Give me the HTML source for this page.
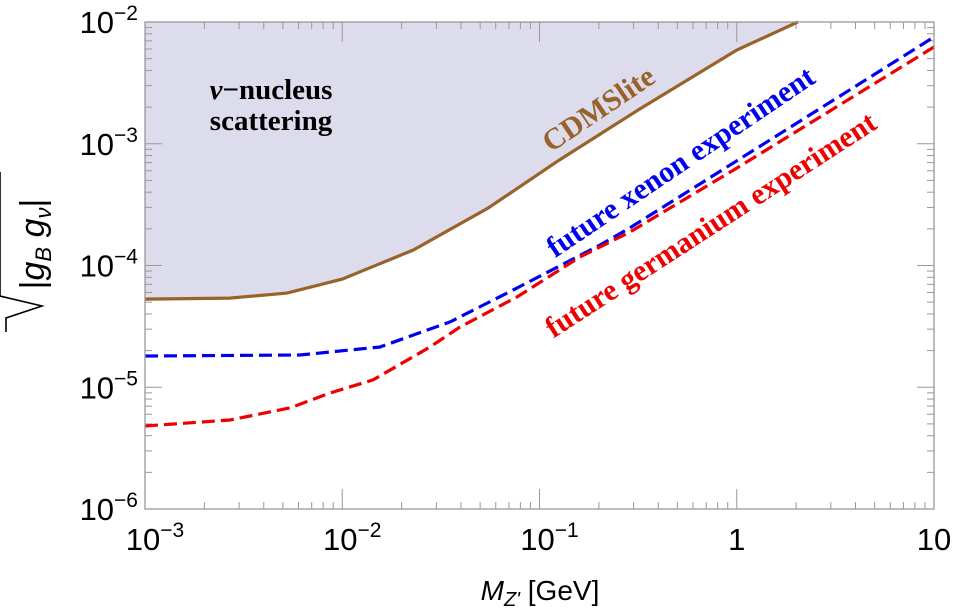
<!DOCTYPE html>
<html><head><meta charset="utf-8"><style>
body{margin:0;background:#fff;}
svg{display:block;font-family:"Liberation Sans",sans-serif;}
</style></head><body>
<svg id="chart" width="957" height="612" viewBox="0 0 957 612" xmlns="http://www.w3.org/2000/svg">
<g id="region"></g>
<g id="ticks"></g>
<g id="series"></g>
<rect x="145" y="22" width="789" height="487" fill="none" stroke="#999" stroke-width="1.3"/>
<g id="labels" font-size="31" fill="#000"></g>
<text x="271" y="99" text-anchor="middle" font-family="Liberation Serif,serif" font-weight="bold" font-size="29"><tspan font-style="italic">ν</tspan>−nucleus</text>
<text x="271" y="130" text-anchor="middle" font-family="Liberation Serif,serif" font-weight="bold" font-size="29">scattering</text>
<text transform="translate(604,117) rotate(-34)" text-anchor="middle" font-family="Liberation Serif,serif" font-weight="bold" font-size="30" fill="#99622a">CDMSlite</text>
<text transform="translate(686,170) rotate(-34)" text-anchor="middle" font-family="Liberation Serif,serif" font-weight="bold" font-size="30" fill="#0000ee">future xenon experiment</text>
<text transform="translate(716,233) rotate(-33)" text-anchor="middle" font-family="Liberation Serif,serif" font-weight="bold" font-size="30" fill="#ee0000">future germanium experiment</text>
<text x="540" y="600" text-anchor="middle" font-size="28"><tspan font-style="italic">M</tspan><tspan font-style="italic" font-size="20" dy="6">Z'</tspan><tspan dy="-6"> [GeV]</tspan></text>
<g transform="translate(50,250) rotate(-90)">
<path d="M-82,-44 L-68,-44 L-56,-8 L-46,-50 L78,-50" fill="none" stroke="#000" stroke-width="1.6"/>
<text x="6" y="-6" text-anchor="middle" font-size="34"><tspan>|</tspan><tspan font-style="italic">g</tspan><tspan font-style="italic" font-size="22" dy="7">B</tspan><tspan font-style="italic" dy="-7"> g</tspan><tspan font-style="italic" font-size="22" dy="7">ν</tspan><tspan dy="-7">|</tspan></text>
</g>
</svg>
<script>
// log10 values
const cdmsX = [-3, -2.57, -2.28, -2, -1.64, -1.26, -0.90, -0.50, 0, 0.31];
const cdmsY = [-4.276, -4.268, -4.227, -4.112, -3.873, -3.528, -3.134, -2.723, -2.230, -2.0];
const xenonX = [-3, -2.214, -1.809, -1.454, -1.114, -0.693, -0.541, 0, 1];
const xenonY = [-4.743, -4.735, -4.669, -4.464, -4.185, -3.832, -3.690, -3.140, -2.123];
const geX = [-3, -2.569, -2.265, -2.062, -1.844, -1.555, -1.403, -1.114, -0.795, -0.541, 0, 1];
const geY = [-5.318, -5.269, -5.170, -5.047, -4.940, -4.669, -4.505, -4.259, -3.930, -3.725, -3.200, -2.205];
const xTickLabels = ["10^-3", "10^-2", "10^-1", "1", "10"];
const yTickLabels = ["10^-6", "10^-5", "10^-4", "10^-3", "10^-2"];

const L = 145, R = 934, T = 22, B = 509;
const sx = v => L + (v + 3) / 4 * (R - L);
const sy = v => B - (v + 6) / 4 * (B - T);
const NS = "http://www.w3.org/2000/svg";
function mk(tag, parent) { const e = document.createElementNS(NS, tag); parent.appendChild(e); return e; }
const pts = (xs, ys) => xs.map((x, i) => sx(x).toFixed(1) + "," + sy(ys[i]).toFixed(1)).join(" ");

const reg = document.getElementById("region");
const poly = mk("polygon", reg);


poly.setAttribute("points", sx(-3) + "," + T + " " + pts(cdmsX, cdmsY));
poly.setAttribute("fill", "#dcdcec");

const ser = document.getElementById("series");
function line(xs, ys, color, dash, name) {
  const p = mk("polyline", ser);
  
  
  p.setAttribute("points", pts(xs, ys));
  p.setAttribute("fill", "none");
  p.setAttribute("stroke", color);
  p.setAttribute("stroke-width", "3.2");
  if (dash) p.setAttribute("stroke-dasharray", dash);
}
line(cdmsX, cdmsY, "#99622a", null, "cdmslite-line");
line(xenonX, xenonY, "#0000ee", "13,6", "xenon-line");
line(geX, geY, "#ee0000", "13,6", "germanium-line");

const tk = document.getElementById("ticks");
function tick(x1, y1, x2, y2) {
  const l = mk("line", tk);
  
  
  l.setAttribute("x1", x1); l.setAttribute("y1", y1); l.setAttribute("x2", x2); l.setAttribute("y2", y2);
  l.setAttribute("stroke", "#999"); l.setAttribute("stroke-width", "1");
}
for (let d = 0; d < 4; d++) for (let m = 1; m < 10; m++) {
  const lx = sx(-3 + d + Math.log10(m)), ly = sy(-6 + d + Math.log10(m));
  const len = m === 1 ? 20 : 7;
  tick(lx, B, lx, B - len); tick(lx, T, lx, T + len);
  const hl = m === 1 ? 17 : 7;
  tick(L, ly, L + hl, ly); tick(R, ly, R - hl, ly);
}
const lb = document.getElementById("labels");
function label(txt, x, y, anchor, name) {
  const t = mk("text", lb);
  
  
  t.setAttribute("x", x); t.setAttribute("y", y); t.setAttribute("text-anchor", anchor);
  if (txt.includes("^")) {
    const [b, e] = txt.split("^");
    const a = mk("tspan", t); a.textContent = b;
    const s = mk("tspan", t); s.textContent = e.replace("-", "−"); s.setAttribute("font-size", "21"); s.setAttribute("dy", "-13");
  } else t.textContent = txt;
}
xTickLabels.forEach((s, i) => label(s, sx(-3 + i) + (s.includes("^") ? 10 : 0), 550, "middle", "x-tick-label"));
yTickLabels.forEach((s, i) => label(s, 138, sy(-6 + i) + 11, "end", "y-tick-label"));
</script>
</body></html>
